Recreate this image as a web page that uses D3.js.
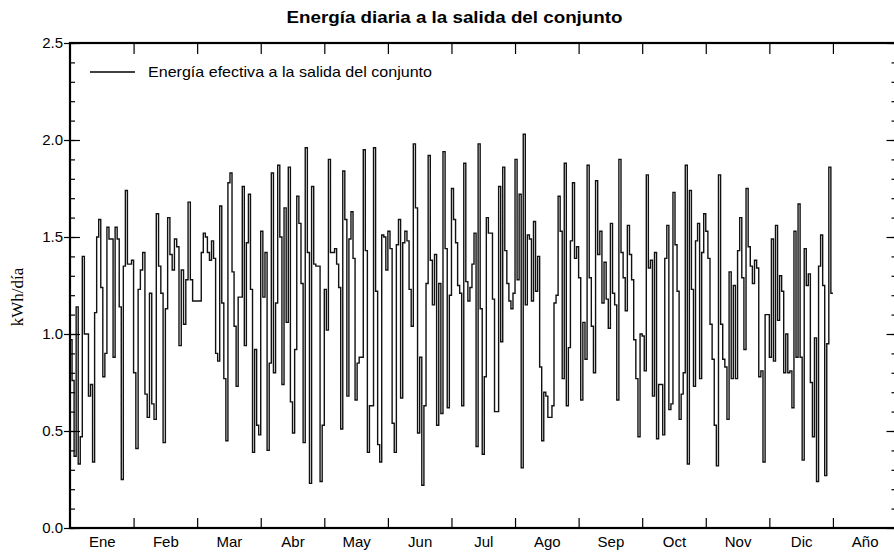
<!DOCTYPE html>
<html>
<head>
<meta charset="utf-8">
<script src="https://cdn.jsdelivr.net/npm/d3@7"></script>
<style>
  html, body { margin: 0; padding: 0; background: #fff; }
  svg { display: block; }
</style>
</head>
<body>
<svg id="chart" width="894" height="552"></svg>
<script>
// ---- Data (kWh/día, one value per day) ----
const monthLabels = ["Ene","Feb","Mar","Abr","May","Jun","Jul","Ago","Sep","Oct","Nov","Dic","Año"];
const yTickValues = [0.0, 0.5, 1.0, 1.5, 2.0, 2.5];
const seriesName = "Energía efectiva a la salida del conjunto";

const ene = [0.97,0.76,0.37,1.14,0.33,0.47,1.40,1.00,1.00,0.68,0.74,0.34,1.11,1.50,1.59,1.24,0.78,0.90,1.55,1.49,1.49,0.88,1.55,1.49,1.14,0.25,1.35,1.74,1.36,1.36,1.38];
const feb = [0.80,0.41,1.23,1.33,1.42,0.69,0.57,1.21,0.64,0.56,1.62,1.35,1.21,0.44,1.13,1.60,1.41,1.33,1.49,1.45,0.94,1.33,1.05,1.28,1.68,1.28,1.17,1.17];
const mar = [1.17,1.17,1.42,1.52,1.50,1.42,1.38,1.48,1.39,0.90,0.86,1.66,1.16,0.77,0.45,1.78,1.83,1.32,1.04,0.73,1.19,1.19,1.76,0.94,1.47,1.72,1.23,0.39,0.92,0.53,0.48];
const abr = [1.53,1.19,1.42,0.40,0.85,1.83,0.80,1.16,1.87,1.50,0.74,1.65,1.06,1.86,0.65,0.49,0.92,1.71,1.57,1.26,0.44,1.96,1.42,0.23,1.76,1.36,1.35,1.35,0.24,0.53];
const may = [1.23,1.02,1.90,1.42,1.42,1.44,1.36,1.24,0.51,1.84,1.59,0.68,1.49,1.63,1.39,0.66,0.85,0.88,0.88,1.95,1.43,0.39,0.63,0.63,1.96,1.22,0.43,0.34,1.51,1.50,1.33];
const jun = [1.53,1.44,0.54,0.39,1.46,1.59,0.67,1.47,1.53,1.48,1.23,1.04,1.98,1.65,0.49,0.88,0.22,0.63,1.26,1.92,1.38,1.15,1.41,0.53,1.26,0.59,1.94,1.44,0.62,1.20];
const jul = [1.75,1.59,1.47,1.25,1.21,0.63,1.88,1.27,1.17,1.24,1.36,1.52,0.42,1.98,1.13,0.38,0.78,1.60,1.52,1.52,1.18,0.60,0.60,1.76,0.96,1.86,1.43,1.26,1.17,1.13,1.21];
const ago = [1.90,1.28,1.72,0.31,2.03,1.15,1.51,1.49,1.17,1.58,1.22,1.40,0.83,0.45,0.70,0.68,0.57,0.57,0.63,1.16,1.20,1.71,1.53,0.77,1.88,0.63,0.93,1.48,1.78,1.39,1.45];
const sep = [1.29,0.66,1.06,0.87,1.87,1.29,1.04,0.80,1.79,1.41,1.53,1.16,1.37,1.18,1.03,1.57,1.21,1.15,0.66,1.90,1.42,1.29,1.12,1.56,1.41,1.28,0.97,0.77,0.47,1.00];
const oct = [0.99,0.81,1.82,1.34,1.38,0.68,1.42,0.46,0.74,0.74,0.48,1.39,1.56,0.61,0.64,1.73,1.46,1.22,0.56,0.69,0.80,1.87,0.33,1.74,1.23,0.73,1.48,1.57,0.77,1.42,1.62];
const nov = [1.53,1.39,1.05,0.87,0.53,0.32,1.82,1.05,0.87,0.83,0.56,1.32,0.77,1.25,0.77,1.43,1.60,1.29,0.92,1.75,1.45,1.35,1.26,1.38,1.34,0.78,0.81,0.34,1.10,1.10];
const dic = [0.88,1.49,0.86,1.56,1.07,1.30,1.22,0.80,1.00,0.80,0.81,0.62,1.53,0.88,1.67,0.88,0.35,1.44,1.25,1.31,0.75,0.47,0.98,0.24,1.35,1.51,1.25,0.27,0.95,1.86,1.21];
const monthlyDaily = [ene, feb, mar, abr, may, jun, jul, ago, sep, oct, nov, dic];

(function () {
const svg = d3.select("#chart");
const W = 894, H = 552;
const pL = 70, pR = 896.5, pT = 43, pB = 528;
const FONT = "'Liberation Sans', Arial, Helvetica, sans-serif";

svg.append("rect").attr("width", W).attr("height", H).attr("fill", "#fff");

const x = d3.scaleLinear().domain([0, 13]).range([pL, pR]);
const y = d3.scaleLinear().domain([0, 2.5]).range([pB, pT]);

const pts = [];
monthlyDaily.forEach((arr, m) => {
  arr.forEach((v, i) => pts.push([m + i / arr.length, v]));
});
pts.push([12, dic[dic.length - 1]]);

// Title
svg.append("text")
  .attr("x", 454.5).attr("y", 23)
  .attr("text-anchor", "middle")
  .attr("font-family", FONT).attr("font-weight", "bold").attr("font-size", "17px")
  .attr("textLength", 336).attr("lengthAdjust", "spacingAndGlyphs")
  .attr("fill", "#000")
  .text("Energía diaria a la salida del conjunto");

// Line
const line = d3.line().x(d => x(d[0])).y(d => y(d[1])).curve(d3.curveStepAfter);
svg.append("path")
  .datum(pts)
  .attr("fill", "none")
  .attr("stroke", "#111")
  .attr("stroke-width", 1.4)
  .attr("d", line);

// Frame
svg.append("rect")
  .attr("x", pL).attr("y", pT)
  .attr("width", pR - pL).attr("height", pB - pT)
  .attr("fill", "none").attr("stroke", "#000").attr("stroke-width", 2.2);

function styleAxis(g) {
  g.select(".domain").remove();
  g.selectAll("line").attr("stroke", "#000").attr("stroke-width", 1.2);
  g.selectAll("text").attr("font-family", FONT).attr("font-size", "15px").attr("fill", "#000");
}

const minorY = d3.range(0, 26).map(k => k / 10);

svg.append("g").attr("transform", `translate(${pL},0)`)
  .call(d3.axisLeft(y).tickValues(yTickValues).tickFormat(d3.format(".1f")).tickSize(6).tickPadding(1))
  .call(styleAxis);
svg.append("g").attr("transform", `translate(${pL},0)`)
  .call(d3.axisRight(y).tickValues(yTickValues).tickFormat("").tickSize(10))
  .call(styleAxis);
svg.append("g").attr("transform", `translate(${pL},0)`)
  .call(d3.axisRight(y).tickValues(minorY).tickFormat("").tickSize(5))
  .call(styleAxis);
svg.append("g").attr("transform", `translate(${pR},0)`)
  .call(d3.axisLeft(y).tickValues(yTickValues).tickFormat("").tickSize(10))
  .call(styleAxis);
svg.append("g").attr("transform", `translate(${pR},0)`)
  .call(d3.axisLeft(y).tickValues(minorY).tickFormat("").tickSize(5))
  .call(styleAxis);

const monthBounds = d3.range(1, 13);
svg.append("g").attr("transform", `translate(0,${pB})`)
  .call(d3.axisTop(x).tickValues(monthBounds).tickFormat("").tickSize(10))
  .call(styleAxis);
svg.append("g").attr("transform", `translate(0,${pT})`)
  .call(d3.axisBottom(x).tickValues(monthBounds).tickFormat("").tickSize(11))
  .call(styleAxis);
svg.append("g").attr("transform", `translate(0,${pB})`)
  .call(d3.axisBottom(x).tickValues(d3.range(13).map(i => i + 0.5)).tickFormat((d, i) => monthLabels[i]).tickSize(0).tickPadding(8))
  .call(styleAxis);

svg.append("text")
  .attr("transform", `translate(23,297) rotate(-90)`)
  .attr("text-anchor", "middle")
  .attr("font-family", "'Liberation Serif', 'Times New Roman', serif")
  .attr("font-size", "17px")
  .attr("fill", "#000")
  .text("kWh/día");

svg.append("line")
  .attr("x1", 90).attr("x2", 135).attr("y1", 72).attr("y2", 72)
  .attr("stroke", "#000").attr("stroke-width", 1.4);
svg.append("text")
  .attr("x", 148).attr("y", 77)
  .attr("font-family", FONT).attr("font-size", "15px").attr("fill", "#000")
  .attr("textLength", 284).attr("lengthAdjust", "spacingAndGlyphs")
  .text(seriesName);
})();
</script>
</body>
</html>
